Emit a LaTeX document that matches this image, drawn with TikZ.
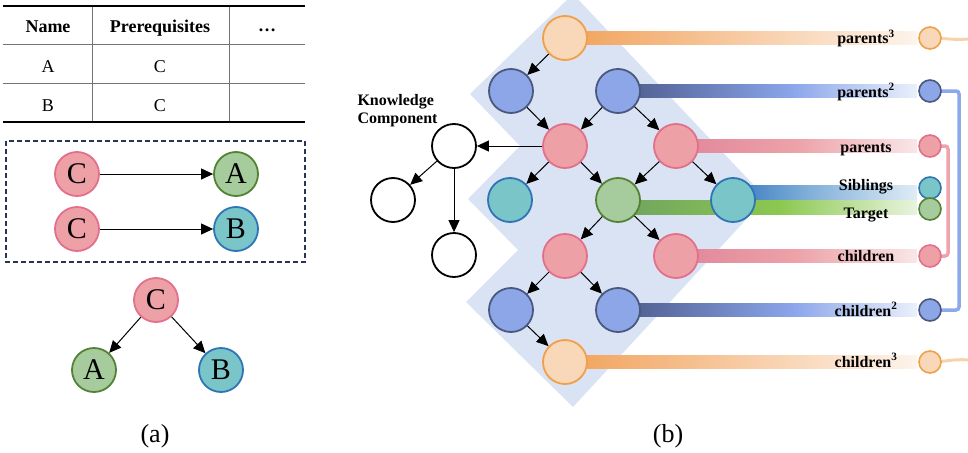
\documentclass[tikz,border=0pt]{standalone}
\usepackage{fontspec}
\setmainfont{Liberation Serif}
\usetikzlibrary{arrows.meta,calc}
\pgfdeclarelayer{bg}
\pgfsetlayers{bg,main}
\definecolor{pkF}{HTML}{EDA0A6}
\definecolor{pkD}{HTML}{E2708A}
\definecolor{gnF}{HTML}{A6CB9C}
\definecolor{gnD}{HTML}{548235}
\definecolor{tlF}{HTML}{7AC5C7}
\definecolor{tlD}{HTML}{2E75B6}
\definecolor{orF}{HTML}{F8D8B8}
\definecolor{orD}{HTML}{F0A048}
\definecolor{blF}{HTML}{8CA6E8}
\definecolor{blD}{HTML}{4A5880}
\definecolor{bgB}{HTML}{DAE3F4}
\definecolor{navy}{HTML}{2A3552}
\definecolor{orA}{HTML}{F1A25A}
\definecolor{orZ}{HTML}{FDF4EC}
\definecolor{blA}{HTML}{4B5A8A}
\definecolor{blM}{HTML}{8AA5EA}
\definecolor{blZ}{HTML}{EAF0FB}
\definecolor{pkA}{HTML}{E0869A}
\definecolor{pkM}{HTML}{EDA2A8}
\definecolor{pkZ}{HTML}{F9E6E8}
\definecolor{sbA}{HTML}{3A7BC0}
\definecolor{sbM}{HTML}{7FAED8}
\definecolor{sbZ}{HTML}{E0ECF6}
\definecolor{tgA}{HTML}{70A260}
\definecolor{tgM}{HTML}{8CC850}
\definecolor{tgZ}{HTML}{E8F4DE}
\definecolor{pkL}{HTML}{EFA4AC}
\definecolor{blL}{HTML}{8EA8EC}
\definecolor{orL}{HTML}{F8D2AC}
\pgfdeclarehorizontalshading{orbar}{100bp}{color(0bp)=(orA); color(25bp)=(orA); color(75bp)=(orZ); color(100bp)=(orZ)}
\pgfdeclarehorizontalshading{blbar}{100bp}{color(0bp)=(blA); color(25bp)=(blA); color(54bp)=(blM); color(75bp)=(blZ); color(100bp)=(blZ)}
\pgfdeclarehorizontalshading{pkbar}{100bp}{color(0bp)=(pkA); color(25bp)=(pkA); color(50bp)=(pkM); color(75bp)=(pkZ); color(100bp)=(pkZ)}
\pgfdeclarehorizontalshading{sbbar}{100bp}{color(0bp)=(sbA); color(25bp)=(sbA); color(45bp)=(sbM); color(75bp)=(sbZ); color(100bp)=(sbZ)}
\pgfdeclarehorizontalshading{tgbar}{100bp}{color(0bp)=(tgA); color(25bp)=(tgA); color(52bp)=(tgM); color(75bp)=(tgZ); color(100bp)=(tgZ)}
\begin{document}
\begin{tikzpicture}[x=1pt,y=-1pt,
  nd/.style={circle, minimum size=44pt, inner sep=0pt, line width=1.8pt, font=\fontsize{30}{31}\selectfont},
  pk/.style={nd, fill=pkF, draw=pkD},
  gn/.style={nd, fill=gnF, draw=gnD},
  tl/.style={nd, fill=tlF, draw=tlD},
  orn/.style={nd, fill=orF, draw=orD},
  bl/.style={nd, fill=blF, draw=blD},
  wh/.style={nd, fill=white, draw=black},
  sm/.style={circle, minimum size=22pt, inner sep=0pt, line width=1.6pt},
  arr/.style={-{Triangle[length=12pt,width=11pt]}, line width=1pt},
  lab/.style={font=\bfseries\fontsize{16}{17}\selectfont, anchor=base},
  tab/.style={font=\fontsize{18}{20}\selectfont, anchor=base},
  tabh/.style={font=\bfseries\fontsize{18}{20}\selectfont, anchor=base},
  captxt/.style={font=\fontsize{26}{28}\selectfont, anchor=base},
  thickrule/.style={line width=2.5pt, black},
  thinrule/.style={line width=0.9pt, black!55},
  dbox/.style={draw=navy, line width=1.5pt, dash pattern=on 5pt off 3pt},
  conn/.style={line width=3.5pt, rounded corners=3pt}
]
\useasboundingbox (0,0) rectangle (968,452);

% ---------- (a) table ----------
\draw[thinrule] (3,44) -- (305,44);
\draw[thinrule] (3,83) -- (305,83);
\draw[thinrule] (92,6) -- (92,122);
\draw[thinrule] (229,6) -- (229,122);
\draw[thickrule] (3,6) -- (305,6);
\draw[thickrule] (3,122) -- (305,122);
\node[tabh] (hname) at (48,33) {Name};
\node[tabh] (hpre) at (160,33) {Prerequisites};
\node[tabh] (hdots) at (267,32) {…};
\node[tab] (ra) at (48,72) {A};
\node[tab] (rac) at (160,72) {C};
\node[tab] (rb) at (48,111) {B};
\node[tab] (rbc) at (160,111) {C};

% ---------- (a) dashed box ----------
\draw[dbox] (6,141) rectangle (305,262);
\node[pk] (c1) at (77,174) {C};
\node[gn] (a1) at (236,174) {A};
\node[pk] (c2) at (77,229) {C};
\node[tl] (b1) at (236,229) {B};
\draw[arr] (c1) -- (a1);
\draw[arr] (c2) -- (b1);

% ---------- (a) tree ----------
\node[pk] (tc) at (156,300) {C};
\node[gn] (ta) at (94,370) {A};
\node[tl] (tb) at (221,370) {B};
\draw[arr] (tc) -- (ta);
\draw[arr] (tc) -- (tb);
\node[captxt] (capa) at (155,442) {(a)};

% ---------- (b) graph nodes ----------
\node[orn] (o1) at (565,38) {};
\node[bl] (bb1) at (511,91) {};
\node[bl] (bb2) at (618,91) {};
\node[pk] (p1) at (565,146) {};
\node[pk] (p2) at (676,146) {};
\node[tl] (t1) at (510,200) {};
\node[gn] (g) at (618,200) {};
\node[tl] (t2) at (733,200) {};
\node[pk] (p3) at (565,256) {};
\node[pk] (p4) at (676,256) {};
\node[bl] (bb3) at (511,310) {};
\node[bl] (bb4) at (618,310) {};
\node[orn] (o2) at (565,362) {};

\draw[arr] (o1) -- (bb1);
\draw[arr] (bb1) -- (p1);
\draw[arr] (bb2) -- (p1);
\draw[arr] (bb2) -- (p2);
\draw[arr] (p1) -- (t1);
\draw[arr] (p1) -- (g);
\draw[arr] (p2) -- (g);
\draw[arr] (p2) -- (t2);
\draw[arr] (g) -- (p3);
\draw[arr] (g) -- (p4);
\draw[arr] (p3) -- (bb3);
\draw[arr] (p3) -- (bb4);
\draw[arr] (bb3) -- (o2);

% ---------- knowledge component ----------
\node[wh] (k0) at (454,146) {};
\node[wh] (k1) at (393,200) {};
\node[wh] (k2) at (454,255) {};
\draw[arr] (p1) -- (k0);
\draw[arr] (k0) -- (k1);
\draw[arr] (k0.south) -- (k2.north);
\node[font=\bfseries\fontsize{16}{18}\selectfont, anchor=base west, align=left] (kct) at (354,123) {Knowledge\\Component};

% ---------- right small circles ----------
\node[sm, fill=orF, draw=orD] (r3p) at (930,38) {};
\node[sm, fill=blF, draw=blD] (r2p) at (930,91) {};
\node[sm, fill=pkF, draw=pkD] (rp) at (930,146) {};
\node[sm, fill=tlF, draw=tlD] (rs) at (930,188) {};
\node[sm, fill=gnF, draw=gnD] (rt) at (930,209) {};
\node[sm, fill=pkF, draw=pkD] (rc) at (930,256) {};
\node[sm, fill=blF, draw=blD] (r2c) at (930,310) {};
\node[sm, fill=orF, draw=orD] (r3c) at (930,362) {};
\coordinate (e3p) at (968,39);
\coordinate (e3c) at (968,360);

% ---------- labels ----------
\node[lab] (l3p) at (866,44) {parents\textsuperscript{3}};
\node[lab] (l2p) at (866,97) {parents\textsuperscript{2}};
\node[lab] (lp) at (866,152) {parents};
\node[lab] (ls) at (866,190) {Siblings};
\node[lab] (lt) at (866,218) {Target};
\node[lab] (lc) at (866,261) {children};
\node[lab] (l2c) at (866,316) {children\textsuperscript{2}};
\node[lab] (l3c) at (866,367) {children\textsuperscript{3}};

% ---------- background layer ----------
\begin{pgfonlayer}{bg}
\fill[bgB] (573,-6) -- (766,198) -- (573,407) -- (466,302) -- (518,250) -- (468,199) -- (520,146) -- (470,94) -- cycle;
\fill[shading=orbar] (565,31.5) rectangle (917,44.5);
\fill[shading=blbar] (618,84.5) rectangle (917,97.5);
\fill[shading=pkbar] (676,139.5) rectangle (917,152.5);
\fill[shading=sbbar] (733,185) rectangle (917,199.5);
\fill[shading=tgbar] (618,200) rectangle (917,214);
\fill[shading=pkbar] (676,249.5) rectangle (917,262.5);
\fill[shading=blbar] (618,303.5) rectangle (917,316.5);
\fill[shading=orbar] (565,355.5) rectangle (917,368.5);
\draw[conn, draw=blL] (r2p.center) -- (959,91) -- (959,310) -- (r2c.center);
\draw[conn, draw=pkL] (rp.center) -- (948,146) -- (948,256) -- (rc.center);
\draw[line width=3pt, draw=orL] (r3p.center) to[out=0,in=185] (e3p);
\draw[line width=3pt, draw=orL] (r3c.center) to[out=0,in=175] (e3c);
\end{pgfonlayer}

\node[captxt] (capb) at (668,442) {(b)};
\end{tikzpicture}
\end{document}
